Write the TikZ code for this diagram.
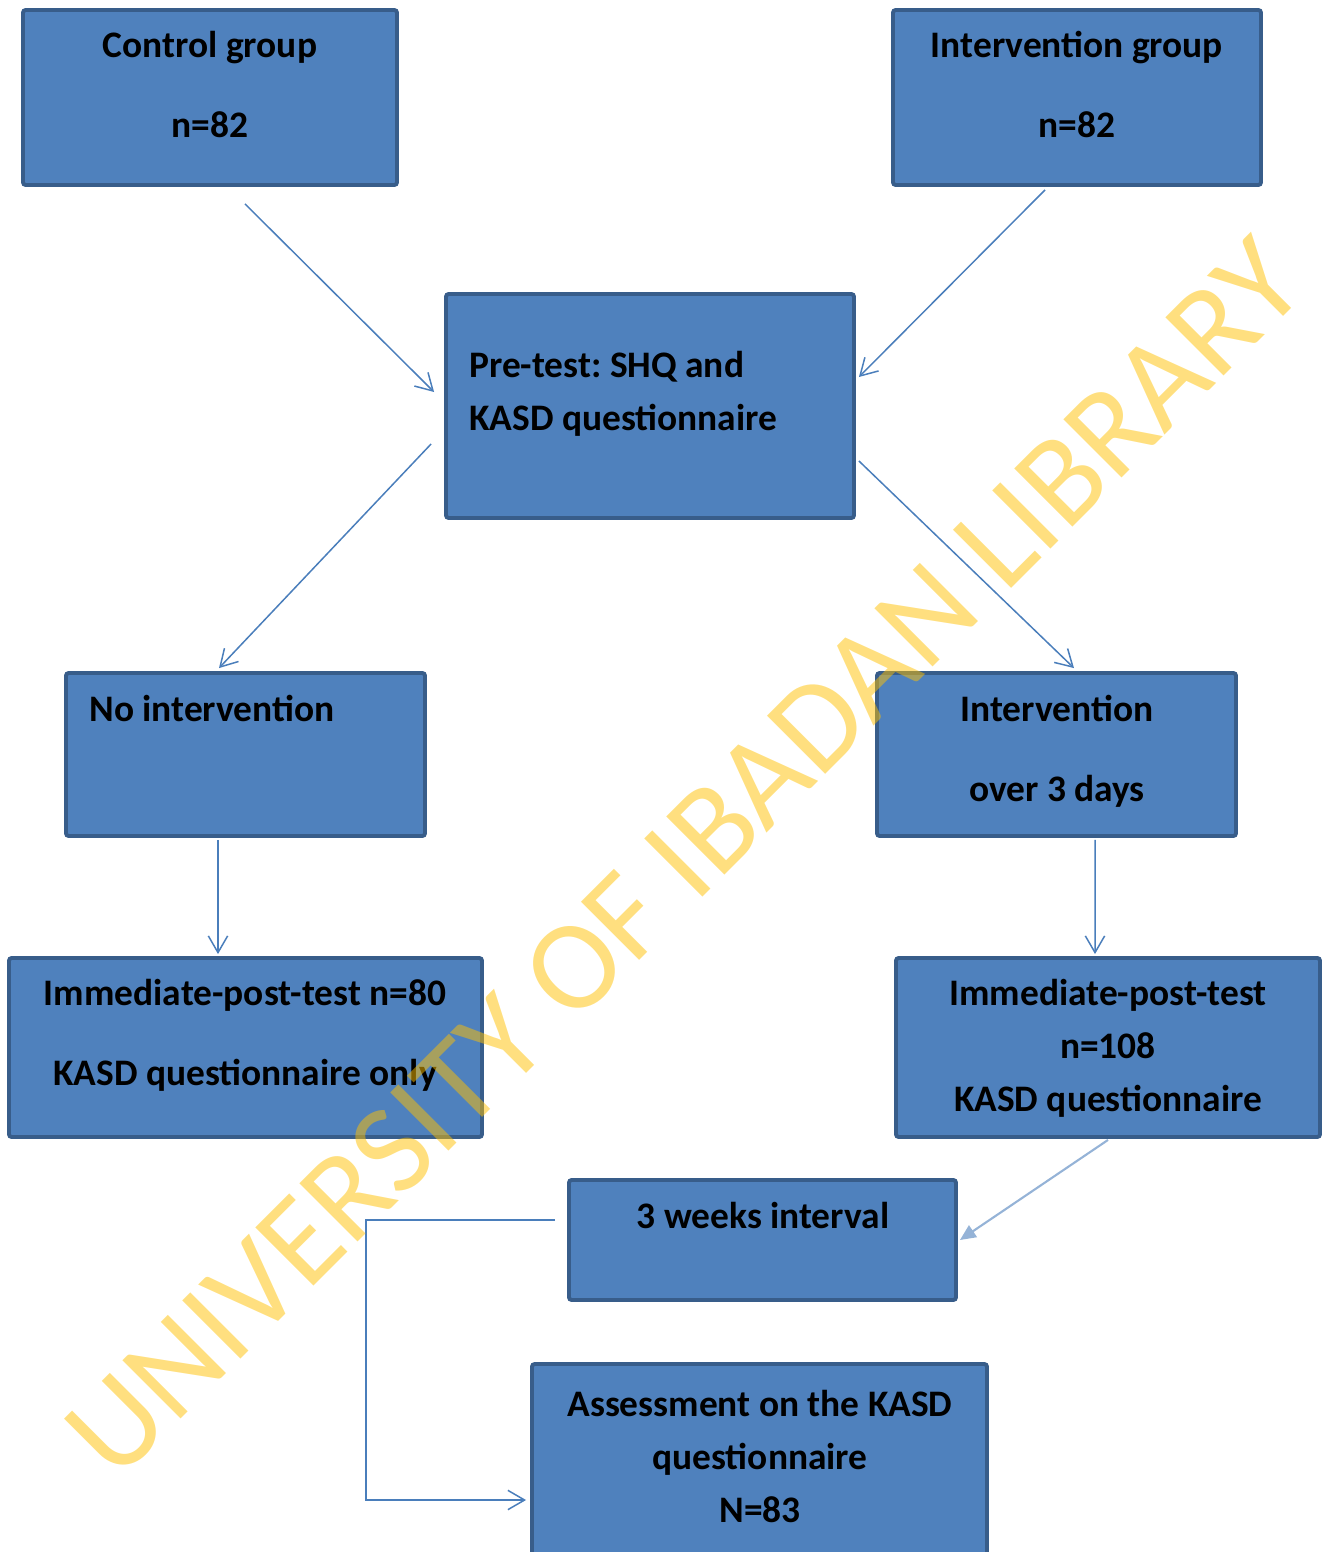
\documentclass[tikz,border=0pt]{standalone}
\usepackage{fontspec}
\setmainfont{Carlito}
\frenchspacing
\usepackage{tikz}
\usetikzlibrary{positioning, arrows.meta, calc}
\definecolor{boxblue}{HTML}{4F81BD}
\definecolor{boxedge}{HTML}{385D8A}
\definecolor{linkblue}{HTML}{4A7EBB}
\definecolor{linklight}{HTML}{95B3D7}
\definecolor{wmyellow}{HTML}{FFC000}
\newlength\px
\setlength\px{0.02cm}

\begin{document}
\begin{tikzpicture}[
      x=0.02cm, y=-0.02cm,
      every node/.style={font=\bfseries\fontsize{21.3}{30}\selectfont},
      block/.style={draw=boxedge, fill=boxblue, line width=2.2pt, rounded corners=1.5pt, inner sep=0pt},
      txt/.style={inner sep=0pt, align=center},
      link/.style={draw=linkblue, line width=0.85pt, -{Straight Barb[length=9.5pt, width=11pt]}},
      watermark/.style={font=\fontsize{73}{78}\selectfont, text=wmyellow, text opacity=0.5, inner sep=0pt},
    ]
    \useasboundingbox (0,0) rectangle (1325,1552);
    \clip (0,0) rectangle (1325,1552);

    % Groups (text nodes sit on the baseline of their last line)
    \node[block, minimum width=374\px, minimum height=175\px] (control) at (210,97.5) {};
    \node[txt, anchor=base] (controltext) at (210,137) {Control group\\[15.5pt]n=82};

    \node[block, minimum width=368\px, minimum height=175\px] (intgroup) at (1077,97.5) {};
    \node[txt, anchor=base] (intgrouptext) at (1077,137) {Intervention group\\[15.5pt]n=82};

    % Pre-test
    \node[block, minimum width=408\px, minimum height=224\px] (pretest) at (650,406) {};
    \node[txt, align=left, anchor=base west] (pretesttext) at (469,430) {Pre-test: SHQ and\\KASD questionnaire};

    % Arms
    \node[block, minimum width=359\px, minimum height=163\px] (noint) at (245.5,754.5) {};
    \node[txt, anchor=base west] (nointtext) at (89,721) {No intervention};

    \node[block, minimum width=359\px, minimum height=163\px] (int3) at (1056.5,754.5) {};
    \node[txt, anchor=base] (int3text) at (1057,801) {Intervention\\[15.5pt]over 3 days};

    % Post-tests
    \node[block, minimum width=473\px, minimum height=179\px] (post80) at (245.5,1047.5) {};
    \node[txt, anchor=base] (post80text) at (245,1085) {Immediate-post-test n=80\\[15.5pt]KASD questionnaire only};

    \node[block, minimum width=424\px, minimum height=179\px] (post108) at (1108,1047.5) {};
    \node[txt, anchor=base] (post108text) at (1108,1111) {Immediate-post-test\\n=108\\KASD questionnaire};

    \node[block, minimum width=387\px, minimum height=120\px] (weeks) at (762.5,1240) {};
    \node[txt, anchor=base] (weekstext) at (763,1228) {3 weeks interval};

    \node[block, minimum width=455\px, minimum height=236\px] (assess) at (759.5,1482) {};
    \node[txt, anchor=base] (assesstext) at (760,1522) {Assessment on the KASD\\questionnaire\\N=83};

    % Connectors
    \draw[link] ($(control.south)+(35,17)$) -- ($(pretest.west)+(-10,-14)$);
    \draw[link] ($(intgroup.south)+(-32,3)$) -- ($(pretest.east)+(3,-29)$);
    \draw[link] ($(pretest.west)+(-13,38)$) -- ($(noint.north)+(-26.5,-3)$);
    \draw[link] ($(pretest.east)+(3,55)$) -- ($(int3.north)+(17.5,-3)$);
    \draw[link] ($(noint.south)+(-27.5,2)$) -- ($(post80.north)+(-27.5,-2)$);
    \draw[link] ($(int3.south)+(38.5,2)$) -- ($(post108.north)+(-13,-2)$);
    \draw[draw=linklight, line width=1.2pt, -{Triangle[length=9pt, width=8pt]}]
      ($(post108.south)+(0,1)$) -- ($(weeks.east)+(2,0)$);
    \draw[link] ($(weeks.west)+(-12,-20)$) -- ++(-189,0) |- ($(assess.west)+(-4,18)$);

    % Watermark
    \node[watermark, rotate=45] (wm) at (684,858) {UNIVERSITY OF IBADAN LIBRARY};
  \end{tikzpicture}
\end{document}
